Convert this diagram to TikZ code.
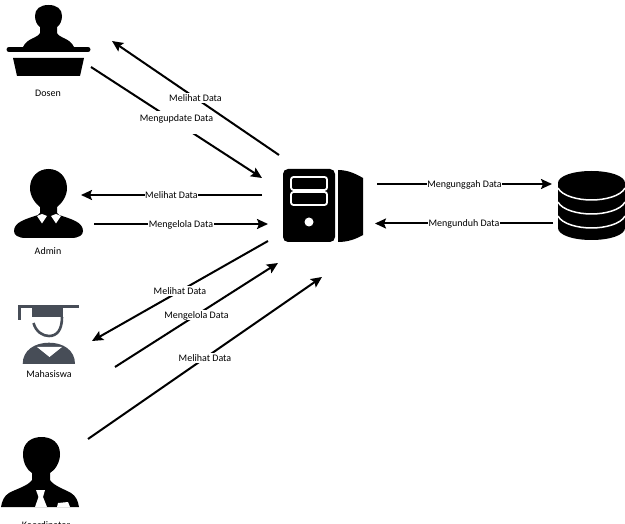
\documentclass[tikz,border=0pt]{standalone}
\usepackage{fontspec}
\setmainfont{Carlito}
\usetikzlibrary{arrows.meta}
\definecolor{mhsgray}{HTML}{474D57}

\begin{document}
\begin{tikzpicture}[x=1pt, y=-1pt,
    conn/.style={draw=black, line width=2pt, -{Stealth[length=11pt,width=10pt,inset=2pt]}},
    lbl/.style={fill=white, inner xsep=0.5pt, inner ysep=0pt, text height=8pt, text depth=1.5pt, font=\fontsize{10}{11}\selectfont},
    caption/.style={font=\fontsize{10}{11}\selectfont},
    mhs/.style={color=mhsgray}]
    \useasboundingbox (0,0) rectangle (625,524);

    % Dosen
    \fill (48.5,5) .. controls (40,5) and (35,9) .. (35,16) .. controls (35,21) and (37,25) .. (40,27)
        -- (40,33) .. controls (38,38) and (27,38) .. (23,47) -- (74,47) .. controls (70,38) and (59,38) .. (57,33)
        -- (57,27) .. controls (60,25) and (62,21) .. (62,16) .. controls (62,9) and (57,5) .. (48.5,5) -- cycle;
    \draw[line width=5pt, line cap=round] (9,49.5) -- (88,49.5);
    \fill (13,58) -- (84,58) -- (80,76) -- (17,76) -- cycle;
    \node[caption] (dosen) at (48,93) {Dosen};

    % Admin
    \fill (48.5,169) .. controls (38,169) and (30,177) .. (30,188) .. controls (30,197) and (36,204) .. (40,207)
        -- (40,213) -- (38,215) .. controls (26,219) and (14,222) .. (14,231) .. controls (14,235) and (18,238) .. (26,238)
        -- (71,238) .. controls (79,238) and (83,235) .. (83,231) .. controls (83,222) and (71,219) .. (59,215)
        -- (57,213) -- (57,207) .. controls (61,204) and (67,197) .. (67,188) .. controls (67,177) and (59,169) .. (48.5,169) -- cycle;
    \fill[white] (37,216) -- (42,223.5) -- (47,216) -- (42,214) -- cycle;
    \fill[white] (51,216) -- (56,223.5) -- (61,216) -- (56,214) -- cycle;
    \node[caption] (admin) at (48,251) {Admin};

    % Mahasiswa
    \fill[mhs] (32,308) rectangle (63,317);
    \draw[mhs, line width=2.6pt] (19.5,320) -- (19.5,306.5) -- (79,306.5);
    \draw[mhs, line width=2.6pt] (33.5,323) .. controls (36,332) and (43,336) .. (49,336) .. controls (57,336) and (62,330) .. (62,317);
    \fill[mhs] (22.7,364) .. controls (22.7,350) and (35,342.7) .. (49,342.7) .. controls (63,342.7) and (75,350) .. (75,364) -- cycle;
    \fill[white] (37,347) -- (62,347) -- (49.5,357) -- cycle;
    \node[caption] (mahasiswa) at (49,374) {Mahasiswa};

    % Koordinator
    \fill (41.5,437) .. controls (31,437) and (23,443) .. (23,454) .. controls (23,463) and (27,470) .. (32,473)
        -- (32,480) .. controls (28,486) and (16,489) .. (9,493) .. controls (4,496) and (2,501) .. (1,507)
        -- (79,507) .. controls (78,501) and (76,496) .. (71,493) .. controls (64,489) and (54,486) .. (50,480)
        -- (50,473) .. controls (55,470) and (60,463) .. (60,454) .. controls (60,443) and (52,437) .. (41.5,437) -- cycle;
    \fill[white] (36,490) -- (45,490) -- (43,497) -- (47,507) -- (35,507) -- (38.5,497) -- cycle;
    \fill[white] (57,507) -- (58,503) -- (68,502) -- (70,507) -- cycle;
    \node[caption] (koordinator) at (46,525.5) {Koordinator};

    % Server
    \fill[rounded corners=5pt] (283,169) rectangle (335,242);
    \draw[white, line width=1.8pt, rounded corners=2.5pt] (291,177) rectangle (327,190);
    \draw[white, line width=1.8pt, rounded corners=2.5pt] (291,192) rectangle (327,205);
    \fill[white] (309,222) circle (4.5pt);
    \fill (338,170) .. controls (348,170) and (356,174) .. (363,178) -- (363,235) .. controls (356,239) and (348,242) .. (338,242) -- cycle;

    % Database
    \fill (558,183) .. controls (558,176) and (573,171) .. (591.5,171) .. controls (610,171) and (625,176) .. (625,183)
        -- (625,228) .. controls (625,235) and (610,240) .. (591.5,240) .. controls (573,240) and (558,235) .. (558,228) -- cycle;
    \draw[white, line width=1.5pt] (558,188) .. controls (562,196) and (578,200) .. (591.5,200) .. controls (605,200) and (621,196) .. (625,188);
    \draw[white, line width=1.5pt] (558,202) .. controls (562,210) and (578,214) .. (591.5,214) .. controls (605,214) and (621,210) .. (625,202);
    \draw[white, line width=1.5pt] (558,216) .. controls (562,224) and (578,228) .. (591.5,228) .. controls (605,228) and (621,224) .. (625,216);

    % Ends of the arrows
    \coordinate (srvdosen) at (279,155);
    \coordinate (dosenin) at (112,41);
    \coordinate (dosenout) at (91,67);
    \coordinate (srvupdate) at (262,178);
    \coordinate (srvadmin) at (262,195);
    \coordinate (adminin) at (81,195);
    \coordinate (adminout) at (94,224);
    \coordinate (srvkelola) at (268,224);
    \coordinate (srvmhs) at (268,241);
    \coordinate (mhsin) at (92,341);
    \coordinate (mhsout) at (115,367);
    \coordinate (srvmhskelola) at (278,263);
    \coordinate (koorout) at (88,439);
    \coordinate (srvkoor) at (322,277);
    \coordinate (srvup) at (377,184);
    \coordinate (dbup) at (552,184);
    \coordinate (dbdown) at (553,223.5);
    \coordinate (srvdown) at (375,223.5);

    % Arrows
    \draw[conn] (dosenout) -- node[lbl, text height=11pt, text depth=12pt] (lblupdate) {Mengupdate Data} (srvupdate);
    \draw[conn] (srvdosen) -- node[lbl] (lbldosen) {Melihat Data} (dosenin);
    \draw[conn] (srvadmin) -- node[lbl] (lbladmin) {Melihat Data} (adminin);
    \draw[conn] (adminout) -- node[lbl] (lblkelola) {Mengelola Data} (srvkelola);
    \draw[conn] (srvmhs) -- node[lbl] (lblmhs) {Melihat Data} (mhsin);
    \draw[conn] (mhsout) -- node[lbl] (lblmhskelola) {Mengelola Data} (srvmhskelola);
    \draw[conn] (koorout) -- node[lbl] (lblkoor) {Melihat Data} (srvkoor);
    \draw[conn] (srvup) -- node[lbl] (lblup) {Mengunggah Data} (dbup);
    \draw[conn] (dbdown) -- node[lbl] (lbldown) {Mengunduh Data} (srvdown);
\end{tikzpicture}
\end{document}
